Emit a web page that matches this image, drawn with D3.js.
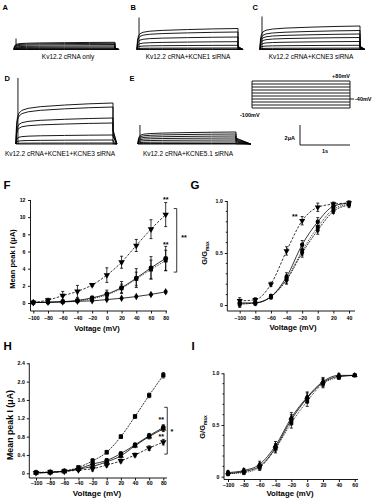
<!DOCTYPE html>
<html>
<head>
<meta charset="utf-8">
<script src="https://cdn.jsdelivr.net/npm/d3@7"></script>
<style>
  body { margin: 0; background: #fff; }
  svg { display: block; font-family: "Liberation Sans", Arial, sans-serif; }
</style>
</head>
<body>
<svg id="fig" width="378" height="500"></svg>
<script>
// ---- data ----

// current traces (steady level of each sweep, uA) and capacitive spike peak
var tracesA = [0.72, 0.62, 0.5, 0.36, 0.24, 0.13, 0.06, 0.02, 0];
var tracesB = [2.1, 1.75, 1.25, 0.78, 0.42, 0.15, 0.05, 0];
var tracesC = [2.35, 1.9, 1.55, 1.2, 0.8, 0.42, 0.14, 0.03, 0];
var tracesD = [4.1, 3.7, 2.6, 2.1, 0.9, 0.4, 0.1, 0];
var tracesE = [1.2, 1.0, 0.8, 0.6, 0.4, 0.2, 0.05, 0];
var spikes = [1.1, 3.2, 3.3, 6.6, 1.9];
// activation time course shared by all sweeps (s, fraction of level)
var traceShapeT = [0, 0.01, 0.03, 0.06, 0.12, 0.25, 0.5, 1.0, 1.5, 2.0];
var traceShapeF = [0, 0.45, 0.65, 0.75, 0.82, 0.87, 0.91, 0.95, 0.98, 1.0];

// voltage protocol step levels (mV)
var stepLevels = [-100, -80, -60, -40, -20, 0, 20, 40, 60, 80];

// F: peak I-V (uA)
var fVolt = [-100, -80, -60, -40, -20, 0, 20, 40, 60, 80];
var fTri = [0.05, 0.35, 0.85, 1.35, 2.1, 3.25, 4.75, 6.7, 8.6, 10.3];
var fTriErr = [0.05, 0.2, 0.5, 0.7, 0.15, 0.85, 0.7, 0.7, 1.1, 1.4];
var fCirc = [0.05, 0.1, 0.15, 0.3, 0.6, 1.05, 1.8, 2.9, 4.1, 5.2];
var fCircErr = [0.02, 0.05, 0.05, 0.1, 0.2, 0.45, 0.7, 1.1, 1.3, 1.4];
var fSq = [0.05, 0.1, 0.15, 0.25, 0.5, 0.95, 1.7, 2.8, 3.9, 4.95];
var fSqErr = [0.02, 0.05, 0.05, 0.1, 0.2, 0.3, 0.5, 0.8, 1.1, 1.2];
var fDia = [0.05, 0.08, 0.12, 0.2, 0.25, 0.4, 0.55, 0.75, 1.0, 1.3];
var fDiaErr = [0.02, 0.03, 0.03, 0.05, 0.05, 0.08, 0.08, 0.1, 0.12, 0.15];

// G: activation G/Gmax
var gVolt = [-100, -80, -60, -40, -20, 0, 20, 40];
var gTri = [0.04, 0.05, 0.2, 0.52, 0.81, 0.94, 0.97, 0.98];
var gCirc = [0.02, 0.02, 0.08, 0.27, 0.58, 0.8, 0.95, 0.98];
var gSq = [0.01, 0.02, 0.08, 0.25, 0.52, 0.75, 0.92, 0.97];
var gDia = [0.01, 0.02, 0.08, 0.24, 0.5, 0.72, 0.9, 0.96];
var gErr = [0.03, 0.02, 0.02, 0.04, 0.04, 0.04, 0.02, 0.02];

// H: peak I-V (uA)
var hVolt = [-100, -80, -60, -40, -20, 0, 20, 40, 60, 80];
var hSq = [0.02, 0.03, 0.05, 0.13, 0.27, 0.46, 0.8, 1.24, 1.7, 2.14];
var hCirc = [0.01, 0.02, 0.05, 0.1, 0.2, 0.28, 0.43, 0.62, 0.82, 1.0];
var hTriUp = [0.01, 0.02, 0.04, 0.09, 0.15, 0.25, 0.38, 0.6, 0.8, 0.97];
var hTriDn = [0.01, 0.02, 0.04, 0.07, 0.1, 0.18, 0.27, 0.4, 0.55, 0.68];
var hErr = [0.01, 0.01, 0.02, 0.03, 0.05, 0.04, 0.04, 0.04, 0.05, 0.06];

// I: activation G/Gmax
var iVolt = [-100, -80, -60, -40, -20, 0, 20, 40, 60];
var iCirc = [0.03, 0.05, 0.1, 0.28, 0.55, 0.76, 0.91, 0.97, 0.98];
var iSq = [0.03, 0.04, 0.09, 0.27, 0.52, 0.73, 0.9, 0.96, 0.98];
var iTri = [0.04, 0.06, 0.12, 0.3, 0.57, 0.77, 0.92, 0.98, 0.98];
var iErr = [0.02, 0.02, 0.03, 0.04, 0.05, 0.05, 0.04, 0.02, 0.01];

var svg = d3.select('#fig');

function label(t, x, y, size) {
  svg.append('text').attr('x', x).attr('y', y)
    .attr('font-size', size).attr('font-weight', 'bold').text(t);
}

function txt(t, x, y, size, anchor) {
  return svg.append('text').attr('x', x).attr('y', y)
    .attr('font-size', size).attr('font-weight', 'bold')
    .attr('text-anchor', anchor || 'start').text(t);
}

// one family of current sweeps; 1 uA = 10 px, 1 s = 50 px
function drawTraces(p) {
  var x = d3.scaleLinear().domain([0, 2]).range([p.x0, p.x0 + p.w]);
  var y = d3.scaleLinear().domain([0, 1]).range([p.base, p.base - 10]);
  var line = d3.line().x(function(d) { return x(d[0]); }).y(function(d) { return y(d[1]); });
  var g = svg.append('g');
  p.levels.forEach(function(L) {
    var pts = traceShapeT.map(function(t, i) { return [t, L * traceShapeF[i]]; });
    pts.push([2.0, L * p.tailF], [2.0 + p.tail, 0]);
    g.append('path').attr('d', line(pts))
      .attr('fill', 'none').attr('stroke', '#000').attr('stroke-width', 0.9);
  });
  g.append('line')
    .attr('x1', x(0.04)).attr('x2', x(0.04))
    .attr('y1', y(0)).attr('y2', y(p.spike))
    .attr('stroke', '#000').attr('stroke-width', 0.9);
  txt(p.caption, p.cx, p.cy, 6.5, 'middle').attr('font-weight', 'normal');
}

var sym = {
  circle: d3.symbolCircle, square: d3.symbolSquare, diamond: d3.symbolDiamond,
  triUp: d3.symbolTriangle, triDown: d3.symbolTriangle
};

function drawPlot(c) {
  var x = d3.scaleLinear().domain(c.xDom).range(c.xRange);
  var y = d3.scaleLinear().domain(c.yDom).range(c.yRange);
  var g = svg.append('g');

  var yg = g.append('g').attr('transform', 'translate(' + c.axisX + ',0)')
    .call(d3.axisLeft(y).tickValues(c.yTicks).tickFormat(c.yFmt).tickSize(2.5).tickPadding(c.yPad));
  yg.select('.domain').remove();
  yg.append('line').attr('y1', y(c.yDom[1])).attr('y2', c.axisY).attr('stroke', '#000');
  (c.yMinor || []).forEach(function(v) {
    yg.append('line').attr('x1', -1.5).attr('x2', 0).attr('y1', y(v)).attr('y2', y(v)).attr('stroke', '#000');
  });

  var xg = g.append('g').attr('transform', 'translate(0,' + c.axisY + ')')
    .call(d3.axisBottom(x).tickValues(c.xTicks).tickSize(2.5).tickPadding(c.xPad));
  xg.select('.domain').remove();
  xg.append('line').attr('x1', c.axisX).attr('x2', c.xEnd).attr('stroke', '#000');

  [yg, xg].forEach(function(a) {
    a.attr('font-size', 5.2).attr('font-family', null).attr('font-weight', 'bold');
    a.selectAll('line').attr('stroke-width', 0.9);
  });

  txt('Voltage (mV)', c.xtX, c.xtY, c.xtSize, 'middle');
  var yt = svg.append('text').attr('transform', 'translate(' + c.ytX + ',' + c.ytY + ') rotate(-90)')
    .attr('text-anchor', 'middle').attr('font-size', c.ytSize).attr('font-weight', 'bold');
  if (c.gmax) {
    yt.append('tspan').text('G/G');
    yt.append('tspan').attr('font-size', c.ytSize * 0.65).attr('dy', 2).text('max');
  } else {
    yt.text('Mean peak I (\u03bcA)');
  }

  c.series.forEach(function(s) {
    var pts = c.xVals.map(function(v, i) { return { x: v, y: s.vals[i], e: s.err[i] }; });
    var line = d3.line().x(function(d) { return x(d.x); }).y(function(d) { return y(d.y); })
      .curve(d3.curveMonotoneX);
    g.append('path').attr('d', line(pts)).attr('fill', 'none')
      .attr('stroke', '#000').attr('stroke-width', 0.8)
      .attr('stroke-dasharray', s.dash || null);
    pts.forEach(function(d) {
      g.append('line').attr('x1', x(d.x)).attr('x2', x(d.x))
        .attr('y1', y(d.y - d.e)).attr('y2', y(d.y + d.e)).attr('stroke', '#000').attr('stroke-width', 0.8);
      [d.y - d.e, d.y + d.e].forEach(function(v) {
        g.append('line').attr('x1', x(d.x) - 1.5).attr('x2', x(d.x) + 1.5)
          .attr('y1', y(v)).attr('y2', y(v)).attr('stroke', '#000').attr('stroke-width', 0.8);
      });
      g.append('path').attr('d', d3.symbol().type(sym[s.marker]).size(s.size || 15)())
        .attr('transform', 'translate(' + x(d.x) + ',' + y(d.y) + ')' + (s.marker === 'triDown' ? ' rotate(180)' : ''))
        .attr('fill', '#000');
    });
  });

  (c.stars || []).forEach(function(st) {
    txt(st.t, x(st.x), y(st.y), 7, 'middle');
  });
  (c.brackets || []).forEach(function(b) {
    var bx = x(b.x);
    g.append('path')
      .attr('d', 'M' + (bx - 3) + ',' + y(b.y1) + 'H' + bx + 'V' + y(b.y2) + 'H' + (bx - 3))
      .attr('fill', 'none').attr('stroke', '#000').attr('stroke-width', 0.8);
  });
}

// ---- A-E current traces ----
label('A', 2.5, 10, 7.5);
label('B', 130.5, 10, 7.5);
label('C', 252.5, 10, 7.5);
label('D', 4.5, 80.5, 7.5);
label('E', 129.5, 80.5, 7.5);

drawTraces({ levels: tracesA, spike: spikes[0], x0: 14, w: 101, base: 49.5, tail: 0.08, tailF: 0.2,
  caption: 'Kv12.2 cRNA only', cx: 68, cy: 59 });
drawTraces({ levels: tracesB, spike: spikes[1], x0: 137, w: 101, base: 49.5, tail: 0.1, tailF: 0.15,
  caption: 'Kv12.2 cRNA+KCNE1 siRNA', cx: 188, cy: 59 });
drawTraces({ levels: tracesC, spike: spikes[2], x0: 260, w: 100, base: 49.5, tail: 0.1, tailF: 0.15,
  caption: 'Kv12.2 cRNA+KCNE3 siRNA', cx: 311, cy: 59 });
drawTraces({ levels: tracesD, spike: spikes[3], x0: 16, w: 97, base: 144, tail: 0.08, tailF: 0.35,
  caption: 'Kv12.2 cRNA+KCNE1+KCNE3 siRNA', cx: 60, cy: 156 });
drawTraces({ levels: tracesE, spike: spikes[4], x0: 138, w: 98, base: 144, tail: 0.3, tailF: 0.5,
  caption: 'Kv12.2 cRNA+KCNE5.1 siRNA', cx: 188, cy: 156 });

// voltage protocol
(function() {
  var t = d3.scaleLinear().domain([0, 2]).range([252, 350]);
  var v = d3.scaleLinear().domain([-100, 80]).range([108, 81]);
  var g = svg.append('g').attr('stroke', '#000').attr('stroke-width', 0.9);
  stepLevels.forEach(function(l) {
    g.append('line').attr('x1', t(0)).attr('x2', t(2)).attr('y1', v(l)).attr('y2', v(l));
  });
  g.append('line').attr('x1', t(0)).attr('x2', t(0)).attr('y1', v(80)).attr('y2', v(-100));
  g.append('line').attr('x1', t(2)).attr('x2', t(2)).attr('y1', v(80)).attr('y2', v(-100));
  g.append('line').attr('x1', t(2)).attr('x2', t(2) + 4).attr('y1', v(-40)).attr('y2', v(-40));
  txt('+80mV', 350, 78, 5.5, 'end');
  txt('-40mV', 355, 101, 5.5);
  txt('-100mV', 240, 117, 5.5);
  // scale bar
  g.append('path').attr('d', 'M300,125V145H350').attr('fill', 'none');
  txt('2\u03bcA', 295, 140, 5.5, 'end');
  txt('1s', 325, 153, 5.5, 'middle');
})();

// ---- F ----
label('F', 3.5, 188.5, 11.5);
drawPlot({
  xVals: fVolt, xDom: [-100, 80], xRange: [33.3, 165.7], yDom: [0, 12], yRange: [303, 200],
  axisX: 30.5, axisY: 311, xEnd: 167,
  yTicks: [0, 2, 4, 6, 8, 10, 12], yFmt: d3.format('d'), yPad: 2.5,
  xTicks: fVolt, xPad: 3,
  xtX: 97, xtY: 331, xtSize: 7.5, ytX: 15, ytY: 259, ytSize: 7.5,
  series: [
    { vals: fDia, err: fDiaErr, marker: 'diamond', size: 16 },
    { vals: fSq, err: fSqErr, marker: 'square', dash: '1,1' },
    { vals: fCirc, err: fCircErr, marker: 'circle', size: 18 },
    { vals: fTri, err: fTriErr, marker: 'triDown', size: 18, dash: '2.5,1.5' }
  ],
  stars: [{ t: '**', x: 80, y: 11.8 }, { t: '**', x: 80, y: 6.5 }, { t: '**', x: 105, y: 7.3 }],
  brackets: [{ x: 95, y1: 11, y2: 3.6 }]
});

// ---- G ----
label('G', 190.5, 189, 11.5);
drawPlot({
  xVals: gVolt, xDom: [-100, 40], xRange: [239.7, 349], yDom: [0, 1], yRange: [305, 201],
  axisX: 227.3, axisY: 311, xEnd: 355,
  yTicks: [0, 0.5, 1], yFmt: function(d) { return d === 0 ? '0' : d3.format('.1f')(d); }, yPad: 2,
  yMinor: [0.1, 0.2, 0.3, 0.4, 0.6, 0.7, 0.8, 0.9],
  xTicks: gVolt, xPad: 2.5,
  xtX: 293, xtY: 330, xtSize: 7.8, ytX: 207, ytY: 253, ytSize: 7.5, gmax: true,
  series: [
    { vals: gDia, err: gErr, marker: 'diamond', dash: '2,1' },
    { vals: gSq, err: gErr, marker: 'square', dash: '1,1' },
    { vals: gCirc, err: gErr, marker: 'circle' },
    { vals: gTri, err: gErr, marker: 'triDown', size: 16, dash: '2.5,1.5' }
  ],
  stars: [{ t: '**', x: -29.5, y: 0.83 }]
});

// ---- H ----
label('H', 3.5, 350, 11.5);
drawPlot({
  xVals: hVolt, xDom: [-100, 80], xRange: [36, 163.3], yDom: [0, 2.4], yRange: [473.3, 363.3],
  axisX: 29.3, axisY: 478, xEnd: 167,
  yTicks: [0, 0.4, 0.8, 1.2, 1.6, 2.0, 2.4], yFmt: function(d) { return d === 0 ? '0' : d3.format('.1f')(d); }, yPad: 2,
  xTicks: hVolt, xPad: 1,
  xtX: 97, xtY: 496, xtSize: 8, ytX: 13, ytY: 425, ytSize: 8.8,
  series: [
    { vals: hTriDn, err: hErr, marker: 'triDown', size: 18, dash: '2.5,1.5' },
    { vals: hTriUp, err: hErr, marker: 'triUp', size: 16 },
    { vals: hCirc, err: hErr, marker: 'circle', size: 18 },
    { vals: hSq, err: hErr, marker: 'square', size: 18, dash: '2,1' }
  ],
  stars: [{ t: '**', x: 77, y: 1.12 }, { t: '**', x: 77, y: 0.75 }, { t: '*', x: 92, y: 0.86 }],
  brackets: [{ x: 85.6, y1: 1.44, y2: 0.42 }]
});

// ---- I ----
label('I', 191.5, 350, 11.5);
drawPlot({
  xVals: iVolt, xDom: [-100, 60], xRange: [228, 354.7], yDom: [0, 1], yRange: [476.7, 373.3],
  axisX: 224, axisY: 479.5, xEnd: 358,
  yTicks: [0, 0.5, 1], yFmt: function(d) { return d === 0 ? '0' : d3.format('.1f')(d); }, yPad: 2,
  yMinor: [0.1, 0.2, 0.3, 0.4, 0.6, 0.7, 0.8, 0.9],
  xTicks: iVolt, xPad: 1,
  xtX: 290, xtY: 496, xtSize: 7.8, ytX: 205, ytY: 427, ytSize: 7.5, gmax: true,
  series: [
    { vals: iSq, err: iErr, marker: 'square', dash: '1,1' },
    { vals: iTri, err: iErr, marker: 'triUp' },
    { vals: iCirc, err: iErr, marker: 'circle' }
  ]
});
</script>
</body>
</html>
